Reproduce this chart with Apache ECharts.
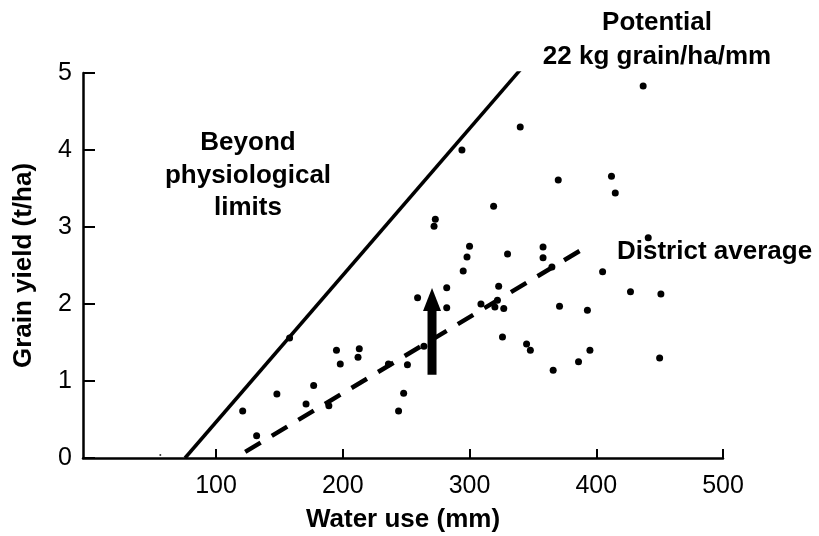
<!DOCTYPE html>
<html>
<head>
<meta charset="utf-8">
<script src="https://cdn.jsdelivr.net/npm/echarts@6/dist/echarts.min.js"></script>
<style>html,body{margin:0;padding:0;background:#fff}#c{width:819px;height:536px}</style>
</head>
<body>
<div id="c"></div>
<script>
// Observed farms: [water use (mm), grain yield (t/ha)]
var farmPoints = [
  [121,0.61],[132,0.29],[148,0.83],[158,1.56],[177,0.94],[171,0.70],[189,0.68],
  [195,1.40],[198,1.22],[213,1.42],[212,1.31],[236,1.22],[251,1.21],[248,0.84],
  [244,0.61],[259,2.08],[282,2.21],[282,1.95],[264,1.45],[295,2.43],[298,2.61],
  [300,2.75],[294,4.00],[340,4.30],[319,3.27],[273,3.10],[272,3.01],[330,2.65],
  [358,2.74],[358,2.60],[365,2.48],[405,2.42],[323,2.23],[309,2.00],[322,2.05],
  [320,1.96],[327,1.94],[371,1.97],[393,1.92],[427,2.16],[451,2.13],[326,1.57],
  [345,1.48],[348,1.40],[395,1.40],[386,1.25],[366,1.14],[450,1.30],[437,4.83],
  [370,3.61],[412,3.66],[415,3.44],[441,2.86]
];
var tinyPoints = [[56,0.04]];
// Potential line (22 kg grain/ha/mm) and district average line
var potentialLine = [[75.5,0],[341,5.06]];
var districtLine = [[123,0.08],[391,2.73]];
// Improvement arrow (shaft and head)
var arrowShaft = [[270.4,1.08],[270.4,1.95]];
var arrowHead = [[270.4,2.06]];
var xTicks = [100,200,300,400,500];
var yTicks = [0,1,2,3,4,5];

var chart = echarts.init(document.getElementById('c'), null, {renderer:'canvas'});
var font = 'Liberation Sans';
chart.setOption({
  backgroundColor:'#fff',
  animation:false,
  grid:{left:83,right:96,top:73,bottom:78,containLabel:false,outerBoundsMode:'none'},
  xAxis:{
    type:'value',min:-5,max:500,
    name:'Water use (mm)',nameLocation:'middle',nameGap:49,
    nameTextStyle:{fontFamily:font,fontWeight:'bold',fontSize:26,color:'#000'},
    axisLine:{show:true,onZero:false,lineStyle:{color:'#000',width:2.5}},
    axisTick:{show:true,inside:true,length:9,lineStyle:{color:'#000',width:2},customValues:xTicks},
    axisLabel:{color:'#000',fontFamily:font,fontSize:25,margin:16,customValues:xTicks},
    splitLine:{show:false}
  },
  yAxis:{
    type:'value',min:0,max:5,interval:1,
    name:'Grain yield (t/ha)',nameLocation:'middle',nameGap:46,nameRotate:90,
    nameTextStyle:{fontFamily:font,fontWeight:'bold',fontSize:26,color:'#000'},
    axisLine:{show:true,onZero:false,lineStyle:{color:'#000',width:2.5}},
    axisTick:{show:true,inside:true,length:12,lineStyle:{color:'#000',width:2}},
    axisLabel:{color:'#000',fontFamily:font,fontSize:25,margin:11,
      customValues:yTicks},
    splitLine:{show:false}
  },
  series:[
    {type:'line',data:potentialLine,showSymbol:false,symbol:'none',
     lineStyle:{color:'#000',width:3.5}},
    {type:'line',data:districtLine,showSymbol:false,symbol:'none',
     lineStyle:{color:'#000',width:4.5,type:[18,13]}},
    {type:'scatter',data:farmPoints,symbol:'circle',symbolSize:7,itemStyle:{color:'#000',opacity:1}},
    {type:'scatter',data:tinyPoints,symbol:'circle',symbolSize:2,itemStyle:{color:'#333',opacity:1}},
    {type:'line',data:arrowShaft,showSymbol:false,symbol:'none',
     lineStyle:{color:'#000',width:9,cap:'butt'}},
    {type:'scatter',data:arrowHead,symbol:'triangle',symbolSize:[18,23],itemStyle:{color:'#000',opacity:1}}
  ],
  graphic:[
    {type:'text',x:657,y:23,style:{text:'Potential',font:'bold 26px '+font,fill:'#000',align:'center',verticalAlign:'middle'}},
    {type:'text',x:657,y:57,style:{text:'22 kg grain/ha/mm',font:'bold 26px '+font,fill:'#000',align:'center',verticalAlign:'middle'}},
    {type:'text',x:248,y:143,style:{text:'Beyond',font:'bold 26px '+font,fill:'#000',align:'center',verticalAlign:'middle'}},
    {type:'text',x:248,y:176,style:{text:'physiological',font:'bold 26px '+font,fill:'#000',align:'center',verticalAlign:'middle'}},
    {type:'text',x:248,y:208,style:{text:'limits',font:'bold 26px '+font,fill:'#000',align:'center',verticalAlign:'middle'}},
    {type:'text',x:617,y:252,style:{text:'District average',font:'bold 26px '+font,fill:'#000',align:'left',verticalAlign:'middle'}}
  ]
});
</script>
</body>
</html>
